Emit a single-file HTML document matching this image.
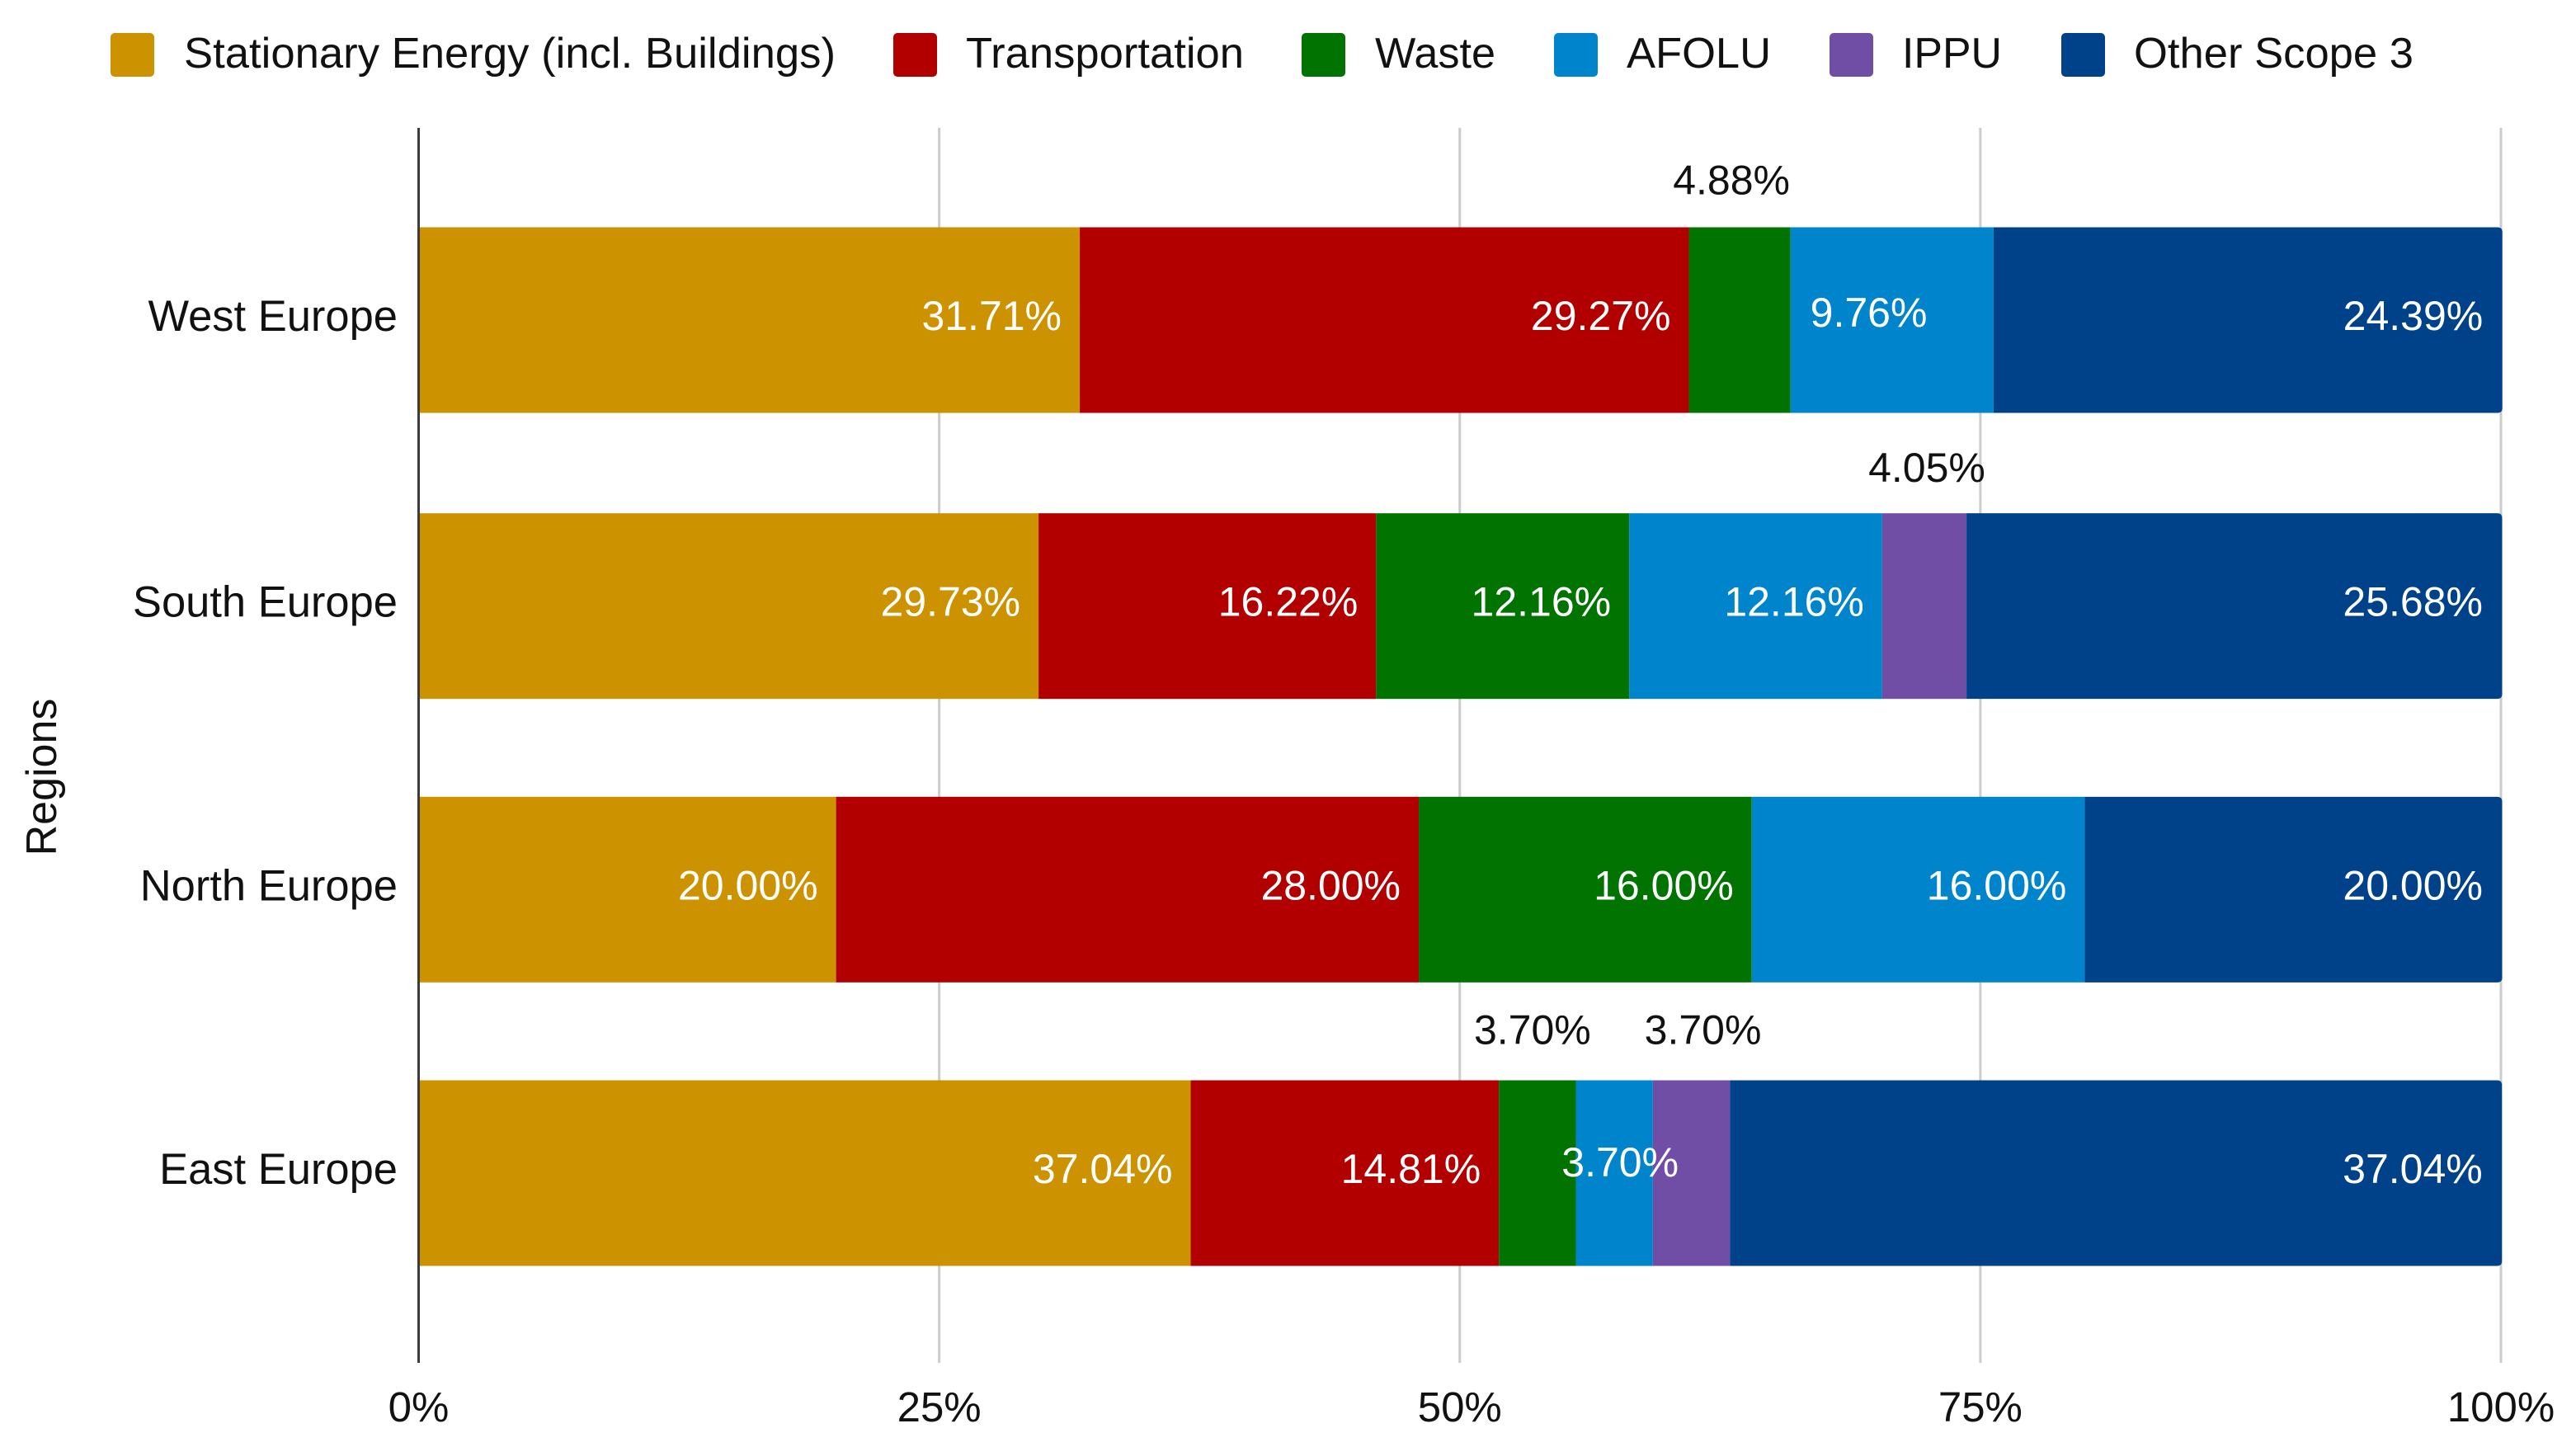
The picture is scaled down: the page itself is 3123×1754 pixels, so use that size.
<!DOCTYPE html>
<html lang="en">
<head>
<meta charset="utf-8">
<title>Emissions by sector and region</title>
<style>
  html, body { margin: 0; padding: 0; background: #fff; }
  svg { display: block; }
  text { font-family: "Liberation Sans", Arial, sans-serif; fill: #111; }
</style>
</head>
<body>
<svg id="chart" xmlns="http://www.w3.org/2000/svg" width="3123" height="1754" viewBox="0 0 3123 1754">
  <rect x="0" y="0" width="3123" height="1754" fill="#ffffff"/>
  <g id="legend" font-size="52">
    <g>
      <rect x="134" y="40" width="53" height="53" rx="5" fill="#cc9200"/>
      <text x="223" y="82" textLength="790" lengthAdjust="spacingAndGlyphs">Stationary Energy (incl. Buildings)</text>
    </g>
    <g>
      <rect x="1083" y="40" width="53" height="53" rx="5" fill="#b20000"/>
      <text x="1171" y="82" textLength="337" lengthAdjust="spacingAndGlyphs">Transportation</text>
    </g>
    <g>
      <rect x="1578" y="40" width="53" height="53" rx="5" fill="#007300"/>
      <text x="1667" y="82" textLength="146" lengthAdjust="spacingAndGlyphs">Waste</text>
    </g>
    <g>
      <rect x="1884" y="40" width="53" height="53" rx="5" fill="#0085cc"/>
      <text x="1972" y="82" textLength="175" lengthAdjust="spacingAndGlyphs">AFOLU</text>
    </g>
    <g>
      <rect x="2218" y="40" width="53" height="53" rx="5" fill="#704ea6"/>
      <text x="2306" y="82" textLength="121" lengthAdjust="spacingAndGlyphs">IPPU</text>
    </g>
    <g>
      <rect x="2499" y="40" width="53" height="53" rx="5" fill="#00428a"/>
      <text x="2587" y="82" textLength="339" lengthAdjust="spacingAndGlyphs">Other Scope 3</text>
    </g>
  </g>
  <text font-size="52" text-anchor="middle" transform="translate(68 942) rotate(-90)">Regions</text>
  <g id="grid"></g>
  <g id="bars"></g>
  <g id="axes"></g>
  <g id="labels"></g>
</svg>
<script>
const regions = ["West Europe", "South Europe", "North Europe", "East Europe"];
const seriesNames = ["Stationary Energy", "Transportation", "Waste", "AFOLU", "IPPU", "Other Scope 3"];
const stationaryEnergy = [31.71, 29.73, 20.00, 37.04];
const transportation = [29.27, 16.22, 28.00, 14.81];
const waste = [4.88, 12.16, 16.00, 3.70];
const afolu = [9.76, 12.16, 16.00, 3.70];
const ippu = [0, 4.05, 0, 3.70];
const otherScope3 = [24.39, 25.68, 20.00, 37.04];
const xTicks = [0, 25, 50, 75, 100];
const xTickLabels = ["0%", "25%", "50%", "75%", "100%"];

const allSeries = [stationaryEnergy, transportation, waste, afolu, ippu, otherScope3];
const seriesColors = ["#cc9200", "#b20000", "#007300", "#0085cc", "#704ea6", "#00428a"];
const SVG_NS = "http://www.w3.org/2000/svg";
const X0 = 507.5, X1 = 3032, BAR_X0 = 509;
const ROW_FIRST = 388, ROW_LAST = 1422, BAR_H = 225;
const GRID_TOP = 155, GRID_BOTTOM = 1652;

function xScale(v) { return X0 + (v / 100) * (X1 - X0); }
function barScale(v) { return BAR_X0 + (v / 100) * (X1 - BAR_X0); }
function rowCenter(i) {
  const base = ROW_FIRST + i * (ROW_LAST - ROW_FIRST) / (regions.length - 1);
  return base + (i === 1 ? 2 : i === 2 ? 1 : 0);
}
function slug(s) { return s.toLowerCase().replace(/[^a-z0-9]+/g, "-"); }

function make(tag, attrs, text) {
  const el = document.createElementNS(SVG_NS, tag);
  for (const k in attrs) el.setAttribute(k, attrs[k]);
  if (text !== undefined) el.textContent = text;
  return el;
}

function labelMode(row, s, v) {
  if (row === 0 && s === 3) return "start";
  if (row === 3 && s === 3) return "center";
  if (v < 5) return "above";
  return "end";
}
function labelOffset(row, s) {
  if (row === 0 && s === 2) return [-10, 0];
  if (row === 0 && s === 3) return [0, -4];
  if (row === 1 && s === 4) return [3, 2];
  if (row === 3 && s === 2) return [-6, -4];
  if (row === 3 && s === 3) return [7, -8];
  if (row === 3 && s === 4) return [14, -4];
  return [0, 0];
}

const gridG = document.getElementById("grid");
const barsG = document.getElementById("bars");
const axesG = document.getElementById("axes");
const labelsG = document.getElementById("labels");









xTicks.forEach(function (t, i) {
  if (t !== 0) {
    const line = make("line", { x1: xScale(t), x2: xScale(t), y1: GRID_TOP, y2: GRID_BOTTOM, stroke: "#cccccc", "stroke-width": 3 });
    
    
    gridG.appendChild(line);
  }
  const tick = make("text", { x: xScale(t), y: 1723, "font-size": 51, "text-anchor": "middle" }, xTickLabels[i]);
  
  
  axesG.appendChild(tick);
});

regions.forEach(function (region, row) {
  const cy = rowCenter(row);
  const top = cy - BAR_H / 2;
  const catLabel = make("text", { x: 482, y: cy + 13, "font-size": 52.5, "text-anchor": "end" }, region);
  
  
  axesG.appendChild(catLabel);

  let lastIndex = 0;
  allSeries.forEach(function (vals, s) { if (vals[row] > 0) lastIndex = s; });

  let cum = 0;
  allSeries.forEach(function (vals, s) {
    const v = vals[row];
    if (!(v > 0)) return;
    const a = barScale(cum);
    const b = barScale(cum + v);
    cum += v;
    let mark;
    if (s === lastIndex) {
      const r = 6;
      const end = b + 1.5;
      const d = "M" + a + " " + top + "H" + (end - r) + "Q" + end + " " + top + " " + end + " " + (top + r) +
        "V" + (top + BAR_H - r) + "Q" + end + " " + (top + BAR_H) + " " + (end - r) + " " + (top + BAR_H) + "H" + a + "Z";
      mark = make("path", { d: d, fill: seriesColors[s] });
    } else {
      mark = make("rect", { x: a, y: top, width: b - a, height: BAR_H, fill: seriesColors[s] });
    }
    
    
    barsG.appendChild(mark);

    const mode = labelMode(row, s, v);
    const off = labelOffset(row, s);
    const mid = (a + b) / 2;
    let lx, ly = cy + 12, anchor = "middle", fill = "#ffffff";
    if (mode === "end") { lx = b - 22; anchor = "end"; }
    else if (mode === "start") { lx = a + 24; anchor = "start"; }
    else if (mode === "center") { lx = mid; }
    else { lx = mid; ly = top - 40; fill = "#111111"; }
    const label = make("text", { x: lx + off[0], y: ly + off[1], "font-size": 50, "text-anchor": anchor, style: "fill:" + fill }, v.toFixed(2) + "%");
    
    
    labelsG.appendChild(label);
  });
});

const yAxis = make("line", { x1: X0, x2: X0, y1: GRID_TOP, y2: GRID_BOTTOM, stroke: "#3c3c3c", "stroke-width": 3 });


axesG.appendChild(yAxis);
</script>
</body>
</html>
